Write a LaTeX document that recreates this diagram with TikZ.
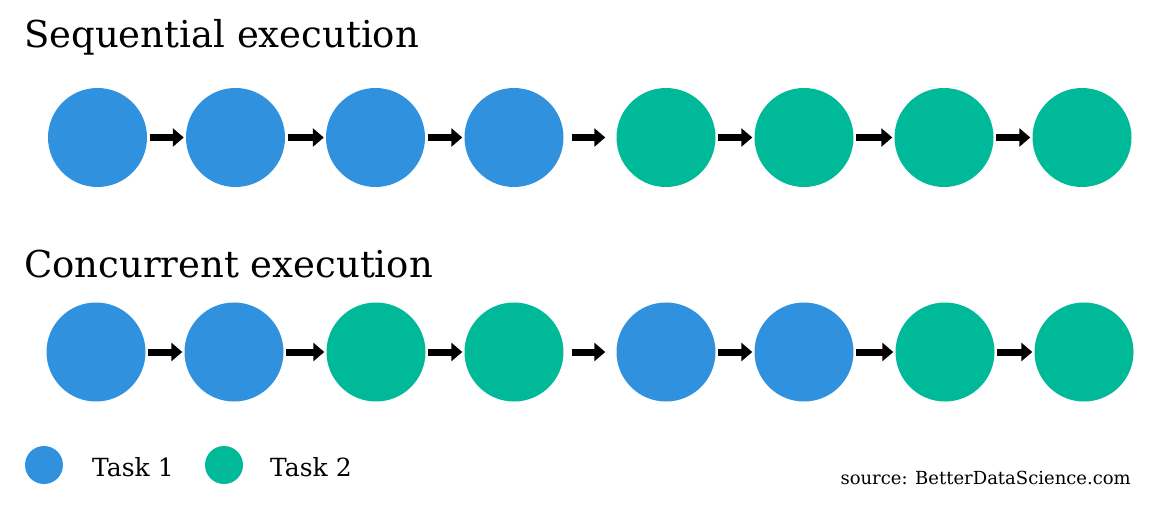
\documentclass[tikz,border=0pt]{standalone}
\usepackage{fontspec}
\setmainfont{DejaVu Serif}
\usetikzlibrary{arrows.meta}
\definecolor{taskblue}{RGB}{48,145,222}
\definecolor{taskgreen}{RGB}{0,185,152}
\tikzset{
  dot/.style={circle, inner sep=0pt, minimum size=99pt, draw=none},
  bdot/.style={dot, fill=taskblue},
  gdot/.style={dot, fill=taskgreen},
  ldot/.style={circle, inner sep=0pt, minimum size=38pt, draw=none},
  arr/.style={line width=7pt, -{Triangle[length=11pt,width=18pt]}, shorten <=2.5pt, shorten >=2pt},
  wide/.style={shorten <=8pt, shorten >=11pt},
  title/.style={anchor=base west, inner sep=0pt, font=\fontsize{37}{44}\selectfont},
  legend/.style={anchor=base west, inner sep=0pt, font=\fontsize{25}{30}\selectfont},
}
\begin{document}
\begin{tikzpicture}[x=1pt,y=-1pt]
\useasboundingbox (0,0) rectangle (1156,508);
\node[title] (t1) at (24,48) {Sequential execution};
\node[title] (t2) at (24,277) {Concurrent execution};
% row 1
\node[bdot] (s1) at (97.5,137.5) {};
\node[bdot] (s2) at (235.5,137.5) {};
\node[bdot] (s3) at (375.5,137.5) {};
\node[bdot] (s4) at (514,137.5) {};
\node[gdot] (s5) at (666,137.5) {};
\node[gdot] (s6) at (804,137.5) {};
\node[gdot] (s7) at (944,137.5) {};
\node[gdot] (s8) at (1082,137.5) {};
\draw[arr] (s1) -- (s2);
\draw[arr] (s2) -- (s3);
\draw[arr] (s3) -- (s4);
\draw[arr,wide] (s4) -- (s5);
\draw[arr] (s5) -- (s6);
\draw[arr] (s6) -- (s7);
\draw[arr] (s7) -- (s8);
% row 2
\node[bdot] (c1) at (96,352) {};
\node[bdot] (c2) at (234,352) {};
\node[gdot] (c3) at (376,352) {};
\node[gdot] (c4) at (514,352) {};
\node[bdot] (c5) at (666,352) {};
\node[bdot] (c6) at (804,352) {};
\node[gdot] (c7) at (945,352) {};
\node[gdot] (c8) at (1084,352) {};
\draw[arr] (c1) -- (c2);
\draw[arr] (c2) -- (c3);
\draw[arr] (c3) -- (c4);
\draw[arr,wide] (c4) -- (c5);
\draw[arr] (c5) -- (c6);
\draw[arr] (c6) -- (c7);
\draw[arr] (c7) -- (c8);
% legend
\node[ldot, fill=taskblue] (l1) at (44,465) {};
\node[legend] (lt1) at (92,476) {Task 1};
\node[ldot, fill=taskgreen] (l2) at (224,465) {};
\node[legend] (lt2) at (270,476) {Task 2};
\node[anchor=base east, inner sep=0pt, font=\fontsize{18}{22}\selectfont] (src) at (1131,484) {source: BetterDataScience.com};
\end{tikzpicture}
\end{document}
